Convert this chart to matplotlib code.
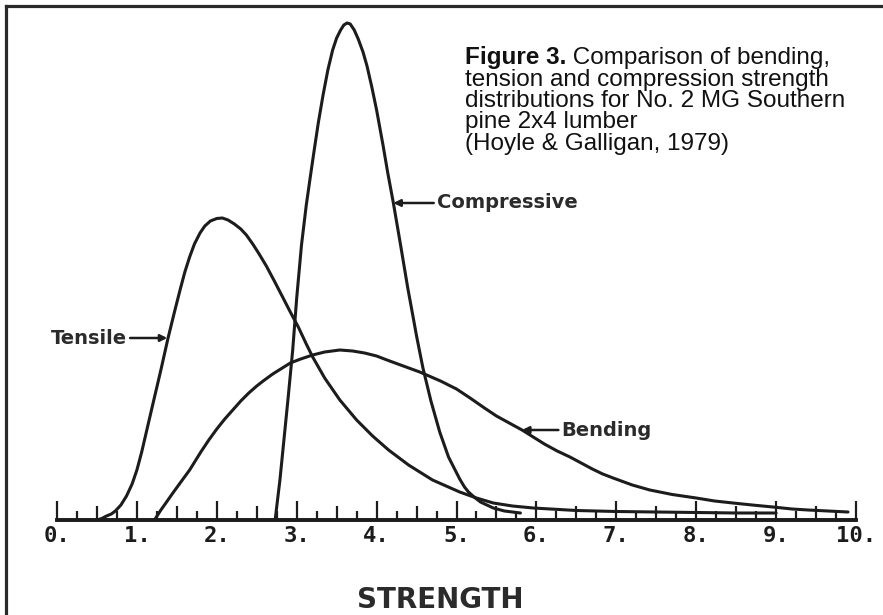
import numpy as np
import matplotlib
matplotlib.use("Agg")
import matplotlib.pyplot as plt
from matplotlib.lines import Line2D
from matplotlib.ticker import FixedLocator

# strength values along each curve and curve height (relative frequency, arbitrary units)
tensile_x = [0.50, 0.56, 0.62, 0.68, 0.73, 0.80, 0.87, 0.94, 1.00, 1.06, 1.13, 1.20, 1.30,
             1.39, 1.47, 1.54, 1.60, 1.66, 1.72, 1.79, 1.85, 1.92, 2.00, 2.07, 2.14, 2.22,
             2.30, 2.37, 2.45, 2.53, 2.62, 2.72, 2.83, 2.92, 3.02, 3.12, 3.20, 3.35, 3.54,
             3.75, 3.95, 4.15, 4.40, 4.70, 5.04, 5.25, 5.46, 5.70, 5.96, 6.50, 7.00, 7.50,
             8.50, 9.00]
tensile_y = [0, 1.5, 4, 6, 9, 15, 24, 36, 50, 68, 92, 116, 150,
             182, 208, 230, 248, 263, 276, 287, 294, 299, 301.5, 302, 300, 296,
             291, 285, 276, 266, 254, 239, 222, 208, 193, 176, 163, 142, 120,
             100, 84, 70, 55, 40, 28, 22, 17, 14, 12, 9.5, 8.5, 8,
             7, 7]

compressive_x = [2.73, 2.76, 2.79, 2.84, 2.89, 2.95, 3.00, 3.06, 3.12, 3.17, 3.21, 3.27,
                 3.33, 3.39, 3.45, 3.50, 3.55, 3.59, 3.63, 3.67, 3.72, 3.77, 3.83, 3.88,
                 3.94, 4.00, 4.08, 4.14, 4.21, 4.30, 4.39, 4.45, 4.50, 4.58, 4.68, 4.79,
                 4.90, 4.97, 5.04, 5.10, 5.15, 5.22, 5.30, 5.38, 5.46, 5.60, 5.80]
compressive_y = [0, 20, 40, 80, 120, 170, 222, 275, 315, 343, 365, 397,
                 425, 450, 470, 482, 490, 495, 497, 496, 490, 481, 468, 454,
                 433, 410, 375, 347, 317, 275, 232, 206, 184, 152, 119, 88,
                 63, 52, 41, 33, 28, 23, 18, 15, 12, 9, 7]

bending_x = [1.22, 1.30, 1.38, 1.45, 1.55, 1.66, 1.73, 1.80, 1.90, 2.00, 2.10, 2.20, 2.30,
             2.40, 2.50, 2.58, 2.70, 2.82, 2.92, 3.05, 3.20, 3.35, 3.54, 3.70, 3.85, 4.00,
             4.13, 4.30, 4.54, 4.80, 5.00, 5.17, 5.35, 5.50, 5.66, 5.82, 5.96, 6.10, 6.26,
             6.42, 6.56, 6.70, 6.83, 6.96, 7.20, 7.42, 7.70, 8.00, 8.23, 8.46, 8.70, 8.96,
             9.20, 9.40, 9.65, 9.90]
bending_y = [0, 10, 19, 27, 38, 50, 59, 68, 80, 91, 101, 110, 119,
             127, 134, 139, 146, 152, 157, 161, 165, 168, 170, 169, 167, 164,
             160, 155, 148, 139, 131, 122, 112, 104, 97, 90, 83, 76, 69,
             63, 57, 51, 46, 42, 35, 30, 25.5, 22, 19, 17, 15, 13,
             11, 10, 9, 8]

tick_labels = ["0.", "1.", "2.", "3.", "4.", "5.", "6.", "7.", "8.", "9.", "10."]

title_bold = "Figure 3."
title_lines = [" Comparison of bending,",
               "tension and compression strength",
               "distributions for No. 2 MG Southern",
               "pine 2x4 lumber",
               "(Hoyle & Galligan, 1979)"]

ink = "#1c1c1c"
W, H = 883, 615

fig = plt.figure(figsize=(W / 100, H / 100), dpi=100)
fig.patch.set_facecolor("white")

ax = fig.add_axes([57 / W, (H - 520) / H, (856 - 57) / W, 500 / H])
ax.set_xlim(0, 10)
ax.set_ylim(0, 500)

for xs, ys in [(tensile_x, tensile_y), (compressive_x, compressive_y), (bending_x, bending_y)]:
    ax.plot(xs, ys, color=ink, lw=2.2, solid_joinstyle="round", solid_capstyle="round",
            clip_on=False, zorder=3)

for s in ["left", "top", "right"]:
    ax.spines[s].set_visible(False)
ax.spines["bottom"].set_linewidth(2.6)
ax.spines["bottom"].set_color(ink)
ax.set_yticks([])

ax.set_xticks(range(11))
ax.set_xticklabels(tick_labels, family="DejaVu Sans Mono", weight="bold", fontsize=16, color=ink)
ax.xaxis.set_minor_locator(FixedLocator(np.arange(0.25, 10, 0.5)))
ax.tick_params(axis="x", which="major", direction="in", length=14, width=1.6, color=ink, pad=4)
ax.tick_params(axis="x", which="minor", direction="in", length=6.5, width=1.6, color=ink)

sec = ax.secondary_xaxis("bottom")
sec.set_xticks(np.arange(0.5, 10, 1))
sec.set_xticklabels([])
sec.tick_params(direction="in", length=10, width=1.6, color=ink)
sec.spines["bottom"].set_linewidth(2.6)
sec.spines["bottom"].set_color(ink)

lab = dict(fontsize=14, weight="bold", color="#2b2b2b", va="center")
arr = dict(arrowstyle="-|>", color=ink, lw=1.8, mutation_scale=10, shrinkA=0, shrinkB=0)
ax.annotate("Tensile", xy=(1.38, 182), xytext=(0.88, 182), ha="right", arrowprops=arr, **lab)
ax.annotate("Compressive", xy=(4.21, 317), xytext=(4.75, 317), ha="left", arrowprops=arr, **lab)
ax.annotate("Bending", xy=(5.82, 90), xytext=(6.31, 90), ha="left", arrowprops=arr, **lab)

fig.text(440 / W, (H - 608) / H, "STRENGTH", ha="center", va="baseline",
         fontsize=20, weight="bold", color="#2b2b2b")

# caption block
tfont = dict(family="Liberation Sans", fontsize=17.5, color="#111111", va="baseline")
baselines = [64, 86, 107, 128, 150]
t0 = fig.text(465 / W, (H - baselines[0]) / H, title_bold, weight="bold", **tfont)
renderer = fig.canvas.get_renderer()
bb = t0.get_window_extent(renderer)
fig.text(bb.x1 / W, (H - baselines[0]) / H, title_lines[0], **tfont)
for line, b in zip(title_lines[1:], baselines[1:]):
    fig.text(465 / W, (H - b) / H, line, **tfont)

# frame around the figure (left and top edges visible)
fig.add_artist(Line2D([5.5 / W, 5.5 / W], [0, (H - 5.5) / H], transform=fig.transFigure,
                      color="#2a2a2a", lw=2.3))
fig.add_artist(Line2D([5.5 / W, 1], [(H - 5.5) / H, (H - 5.5) / H], transform=fig.transFigure,
                      color="#2a2a2a", lw=2.3))

fig.savefig("out.png", dpi=100)
